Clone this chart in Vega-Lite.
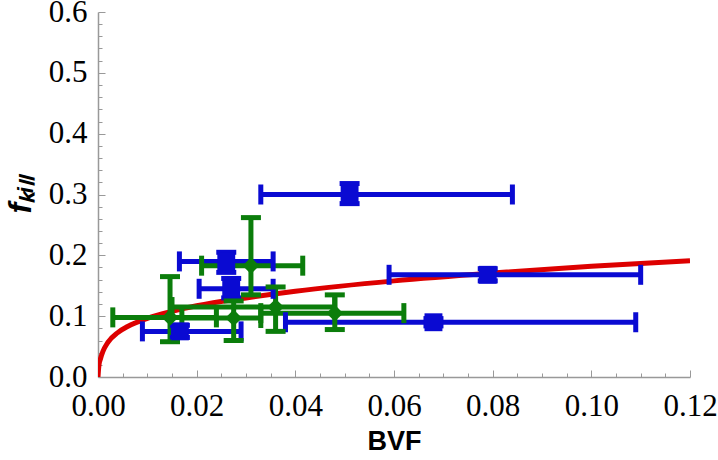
{
  "$schema": "https://vega.github.io/schema/vega-lite/v6.json",
  "width": 592,
  "height": 365,
  "autosize": "none",
  "padding": {"left": 98, "top": 12, "right": 28, "bottom": 83},
  "background": "white",
  "config": {"view": {"stroke": null}, "axis": {"labelFont": "Liberation Serif, DejaVu Serif, serif", "labelFontSize": 31, "labelColor": "#000000"}},
  "resolve": {"axis": {"x": "independent", "y": "independent"}},
  "datasets": {
    "pts": [
      {"series": "blue", "x": 0.051, "y": 0.300, "xlo": 0.033, "xhi": 0.084, "ylo": 0.285, "yhi": 0.318},
      {"series": "blue", "x": 0.079, "y": 0.168, "xlo": 0.059, "xhi": 0.110, "ylo": 0.158, "yhi": 0.178},
      {"series": "blue", "x": 0.068, "y": 0.090, "xlo": 0.038, "xhi": 0.109, "ylo": 0.084, "yhi": 0.096},
      {"series": "blue", "x": 0.026, "y": 0.190, "xlo": 0.0165, "xhi": 0.0355, "ylo": 0.172, "yhi": 0.205},
      {"series": "blue", "x": 0.027, "y": 0.145, "xlo": 0.0205, "xhi": 0.0355, "ylo": 0.130, "yhi": 0.162},
      {"series": "blue", "x": 0.0166, "y": 0.075, "xlo": 0.009, "xhi": 0.029, "ylo": 0.065, "yhi": 0.085},
      {"series": "green", "x": 0.0146, "y": 0.098, "xlo": 0.003, "xhi": 0.024, "ylo": 0.058, "yhi": 0.165},
      {"series": "green", "x": 0.0275, "y": 0.097, "xlo": 0.017, "xhi": 0.033, "ylo": 0.060, "yhi": 0.125},
      {"series": "green", "x": 0.031, "y": 0.183, "xlo": 0.021, "xhi": 0.0415, "ylo": 0.135, "yhi": 0.262},
      {"series": "green", "x": 0.036, "y": 0.115, "xlo": 0.015, "xhi": 0.048, "ylo": 0.075, "yhi": 0.148},
      {"series": "green", "x": 0.048, "y": 0.105, "xlo": 0.033, "xhi": 0.062, "ylo": 0.078, "yhi": 0.135}
    ],
    "curve": [
      {"x": 0, "y": 0},
      {"x": 0.0001, "y": 0.012},
      {"x": 0.0002, "y": 0.02},
      {"x": 0.0005, "y": 0.03},
      {"x": 0.001, "y": 0.042},
      {"x": 0.002, "y": 0.057},
      {"x": 0.004, "y": 0.073},
      {"x": 0.006, "y": 0.083},
      {"x": 0.01, "y": 0.0965},
      {"x": 0.015, "y": 0.108},
      {"x": 0.02, "y": 0.117},
      {"x": 0.03, "y": 0.130},
      {"x": 0.04, "y": 0.141},
      {"x": 0.06, "y": 0.158},
      {"x": 0.08, "y": 0.171},
      {"x": 0.1, "y": 0.182},
      {"x": 0.12, "y": 0.191}
    ]
  },
  "layer": [
    {
      "data": {"name": "curve"},
      "mark": {"type": "line", "color": "#dd0000", "strokeWidth": 5, "interpolate": "monotone", "clip": true},
      "encoding": {
        "x": {
          "field": "x", "type": "quantitative",
          "scale": {"domain": [0, 0.12], "nice": false, "zero": false},
          "axis": {
            "orient": "bottom",
            "values": [0.005, 0.01, 0.015, 0.025, 0.03, 0.035, 0.045, 0.05, 0.055, 0.065, 0.07, 0.075, 0.085, 0.09, 0.095, 0.105, 0.11, 0.115],
            "labels": false, "title": null, "domain": false,
            "tickColor": "#999999", "tickWidth": 1, "tickSize": -4,
            "grid": false
          }
        },
        "y": {
          "field": "y", "type": "quantitative",
          "scale": {"domain": [0, 0.6], "nice": false, "zero": false},
          "axis": {
            "orient": "left",
            "values": [0.02, 0.04, 0.06, 0.08, 0.12, 0.14, 0.16, 0.18, 0.22, 0.24, 0.26, 0.28, 0.32, 0.34, 0.36, 0.38, 0.42, 0.44, 0.46, 0.48, 0.52, 0.54, 0.56, 0.58],
            "labels": false, "title": null, "domain": false,
            "tickColor": "#999999", "tickWidth": 1, "tickSize": -4,
            "grid": false
          }
        }
      }
    },
    {
      "data": {"name": "pts"},
      "encoding": {
        "x": {
          "field": "x", "type": "quantitative",
          "scale": {"domain": [0, 0.12], "nice": false, "zero": false},
          "axis": {
            "orient": "bottom",
            "values": [0, 0.02, 0.04, 0.06, 0.08, 0.1, 0.12],
            "format": ".2f",
            "title": "BVF",
            "titleFont": "Liberation Sans", "titleFontWeight": "bold", "titleFontSize": 27, "titleColor": "#000",
            "titlePadding": 7,
            "labelPadding": 21, "labelFlush": false, "labelOverlap": false,
            "domainColor": "#999999", "domainWidth": 1.5,
            "tickColor": "#999999", "tickWidth": 1, "tickSize": -7,
            "grid": false
          }
        },
        "y": {
          "field": "y", "type": "quantitative",
          "scale": {"domain": [0, 0.6], "nice": false, "zero": false},
          "axis": {
            "orient": "left",
            "values": [0, 0.1, 0.2, 0.3, 0.4, 0.5, 0.6],
            "format": ".1f",
            "title": "fₖᵢₗₗ",
            "titleFont": "Liberation Sans", "titleFontWeight": "bold", "titleFontStyle": "italic", "titleFontSize": 32, "titleColor": "#000",
            "titlePadding": 11,
            "labelPadding": 18, "labelFlush": false, "labelOverlap": false,
            "domainColor": "#999999", "domainWidth": 1.5,
            "tickColor": "#999999", "tickWidth": 1, "tickSize": -7,
            "grid": false
          }
        },
        "color": {"field": "series", "type": "nominal", "scale": {"domain": ["blue", "green"], "range": ["#0a0ad2", "#0b7d0b"]}, "legend": null}
      },
      "layer": [
        {
          "mark": {"type": "rule", "strokeWidth": 5},
          "encoding": {
            "x": {"field": "xlo", "type": "quantitative"},
            "x2": {"field": "xhi"}
          }
        },
        {
          "mark": {"type": "rule", "strokeWidth": 5},
          "encoding": {
            "y": {"field": "ylo", "type": "quantitative"},
            "y2": {"field": "yhi"}
          }
        },
        {
          "mark": {"type": "tick", "orient": "vertical", "size": 20, "thickness": 5, "opacity": 1},
          "encoding": {
            "x": {"field": "xlo", "type": "quantitative"}
          }
        },
        {
          "mark": {"type": "tick", "orient": "vertical", "size": 20, "thickness": 5, "opacity": 1},
          "encoding": {
            "x": {"field": "xhi", "type": "quantitative"}
          }
        },
        {
          "mark": {"type": "tick", "orient": "horizontal", "size": 20, "thickness": 5, "opacity": 1},
          "encoding": {
            "y": {"field": "ylo", "type": "quantitative"}
          }
        },
        {
          "mark": {"type": "tick", "orient": "horizontal", "size": 20, "thickness": 5, "opacity": 1},
          "encoding": {
            "y": {"field": "yhi", "type": "quantitative"}
          }
        },
        {
          "mark": {"type": "point", "filled": true, "opacity": 1},
          "encoding": {
            "shape": {"field": "series", "type": "nominal", "scale": {"domain": ["blue", "green"], "range": ["square", "diamond"]}, "legend": null},
            "size": {"field": "series", "type": "nominal", "scale": {"domain": ["blue", "green"], "range": [320, 280]}, "legend": null}
          }
        }
      ]
    }
  ]
}
